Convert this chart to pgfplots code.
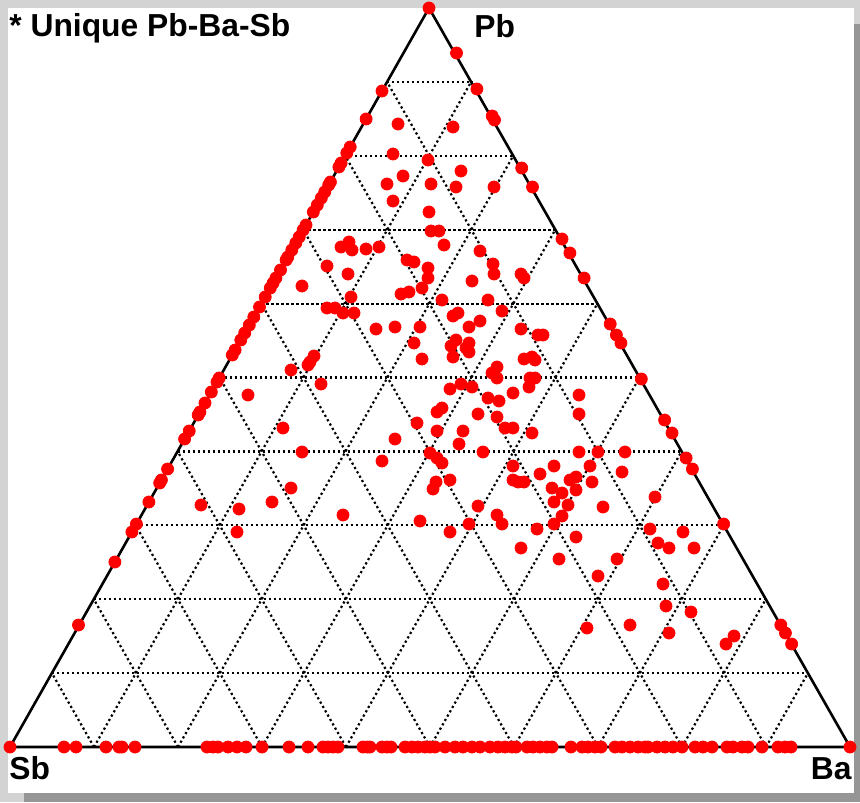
\documentclass[border=0pt]{standalone}
\usepackage{pgfplots}
\pgfplotsset{compat=1.18}
\usepackage{pgfplotstable}
\usepackage{fontspec}
\setmainfont{Liberation Sans}
\definecolor{framegray}{HTML}{D3D3D3}
\definecolor{shadowgray}{HTML}{969696}

% Sample positions (image units: x to the right, y downward; Sb=(10,747), Ba=(850,747), Pb=(429,8))
\pgfplotstableread{
x y
429 8
10 747
850 747
456.5 53
476.9 89
492.2 116
494.5 120
521.7 168
532.5 187
562.0 239
569.9 253
584.1 278
610.2 324
616.4 335
620.9 343
641.3 379
664.6 420
672.0 433
686.1 458
692.4 469
723.6 524
780.8 625
785.4 633
791.6 644
382.0 91
366.1 119
350.2 147
346.8 153
341.1 163
338.9 167
330.4 182
328.7 185
324.7 192
321.3 198
317.3 205
313.3 212
306.0 225
303.1 230
299.2 237
295.8 243
291.8 250
287.8 257
286.1 260
280.5 270
275.9 278
273.1 283
270.3 288
265.2 297
259.5 307
253.8 317
249.3 325
244.7 333
240.8 340
235.1 350
232.3 355
219.2 378
217.0 382
211.3 392
205.0 403
199.9 412
198.2 415
189.2 431
184.6 439
167.6 469
161.4 480
159.7 483
148.9 502
136.4 524
131.9 532
114.9 562
78.5 625
64 747
76 747
106 747
119 747
122 747
135 747
207 747
213 747
218 747
228 747
237 747
246 747
262 747
289 747
308 747
323 747
328 747
333 747
338 747
363 747
367 747
370 747
382 747
387 747
391 747
405 747
412 747
418 747
425 747
430 747
435 747
445 747
455 747
463 747
472 747
480 747
490 747
498 747
505 747
512 747
516 747
527 747
533 747
540 747
547 747
552 747
571 747
582 747
588 747
595 747
601 747
615 747
622 747
630 747
638 747
645 747
648 747
657 747
665 747
673 747
682 747
695 747
703 747
712 747
727 747
733 747
742 747
748 747
762 747
778 747
785 747
791 747
398 124
453 127
393 154
428 160
461 171
403 176
387 184
431 184
456 187
494 187
393 201
429 212
431 231
439 231
444 245
341 247
349 242
352 250
366 249
379 247
480 251
407 260
414 262
493 264
327 266
348 274
302 286
351 297
327 308
335 308
343 313
354 313
376 329
395 327
420 327
414 343
422 359
401 294
409 292
422 288
428 268
428 278
314 356
310 362
308 365
291 370
321 384
248 395
283 428
302 452
395 439
417 423
382 461
291 488
272 502
239 509
237 532
201 505
494 274
521 274
524 278
472 281
442 300
488 300
502 311
453 316
458 313
480 321
469 327
521 329
538 335
543 335
456 340
451 346
469 343
466 348
469 352
453 357
524 359
532 357
535 360
497 367
492 373
497 378
530 378
535 378
529 387
461 384
472 387
450 389
488 398
499 401
513 393
579 395
579 414
478 414
497 417
505 428
513 428
442 408
437 412
437 431
463 431
532 433
459 444
483 452
430 453
437 458
442 463
579 452
598 452
625 452
622 472
513 466
554 466
590 466
450 480
513 480
518 482
524 482
540 474
570 480
576 477
592 482
436 482
433 489
552 488
576 490
562 493
554 502
568 505
603 507
478 506
497 515
502 524
469 524
450 532
562 516
554 524
537 529
576 537
521 548
559 559
617 559
598 576
587 628
630 625
655 497
650 529
683 532
658 543
669 548
694 548
663 584
666 606
691 612
669 633
726 644
734 636
343 515
420 521
}\samples

\begin{document}
\begin{tikzpicture}
\begin{axis}[
  x=0.5pt, y=0.5pt, y dir=reverse,
  xmin=0, xmax=860, ymin=0, ymax=802,
  hide axis, clip=false,
]
% frame, shadow and white panel
\fill[framegray] (axis cs:0,0) rectangle (axis cs:860,802);
\fill[shadowgray] (axis cs:24,24) rectangle (axis cs:860,802);
\fill[white] (axis cs:8,8) rectangle (axis cs:854,793);
% dotted 10% grid
\pgfplotsinvokeforeach{1,...,9}{
  \draw[line width=1.1pt, dash pattern=on 1.1pt off 1.4pt]
    (axis cs:{10+41.9*#1},{747-73.9*#1}) -- (axis cs:{850-41.9*#1},{747-73.9*#1});
  \draw[line width=1.1pt, dash pattern=on 1.1pt off 1.4pt]
    (axis cs:{850-84*#1},747) -- (axis cs:{429-41.9*#1},{8+73.9*#1});
  \draw[line width=1.1pt, dash pattern=on 1.1pt off 1.4pt]
    (axis cs:{10+84*#1},747) -- (axis cs:{429+42.1*#1},{8+73.9*#1});
}
% triangle
\draw[line width=1.3pt, line join=miter] (axis cs:429,8) -- (axis cs:10,747) -- (axis cs:850,747) -- cycle;
% data
\addplot[only marks, mark=*, mark size=3pt, mark options={draw=red, fill=red}] table[x=x, y=y] {\samples};
% labels
\node[anchor=base west, inner sep=0pt, font=\fontsize{15.9}{18}\selectfont\bfseries] at (axis cs:9,37) {* Unique Pb-Ba-Sb};
\node[anchor=base west, inner sep=0pt, font=\fontsize{15.9}{18}\selectfont\bfseries] at (axis cs:474,38) {Pb};
\node[anchor=base west, inner sep=0pt, font=\fontsize{15.9}{18}\selectfont\bfseries] at (axis cs:9,779) {Sb};
\node[anchor=base east, inner sep=0pt, font=\fontsize{15.9}{18}\selectfont\bfseries] at (axis cs:852,779) {Ba};
\end{axis}
\end{tikzpicture}
\end{document}
